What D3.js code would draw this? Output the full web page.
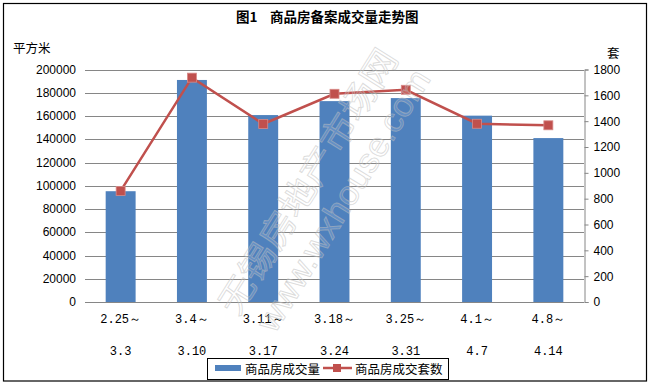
<!DOCTYPE html>
<html><head><meta charset="utf-8">
<script src="https://cdn.jsdelivr.net/npm/d3@7"></script>
<style>
html,body{margin:0;padding:0;background:#fff;}
svg{display:block;}
</style></head>
<body>
<svg id="c" width="651" height="384"></svg>
<script>
const categoriesTop = ["2.25～","3.4～","3.11～","3.18～","3.25～","4.1～","4.8～"];
const categoriesBottom = ["3.3","3.10","3.17","3.24","3.31","4.7","4.14"];
const areaValues = [95300, 191000, 160800, 172800, 175400, 160300, 141000];
const unitValues = [860, 1737, 1378, 1612, 1643, 1380, 1368];
const leftTicks = [0,20000,40000,60000,80000,100000,120000,140000,160000,180000,200000];
const rightTicks = [0,200,400,600,800,1000,1200,1400,1600,1800];
const seriesNames = ["商品房成交量","商品房成交套数"];
const titleParts = ["图1", "商品房备案成交量走势图"];
const watermark = ["无锡房地产市场网", "www.wxhouse.com"];

const svg = d3.select("#c");
const W = 651, H = 384;
const m = {left:85, right:584, top:69.5, bottom:302};
const barColor = "#4F81BD", lineColor = "#C0504D", gridColor = "#868686";
const numFont = "'Liberation Sans', Arial, sans-serif";
const cjkFont = "'Noto Sans CJK SC', sans-serif";
const monoFont = "'Liberation Mono', 'DejaVu Sans Mono', monospace";

svg.append("rect").attr("x",3.5).attr("y",3.5).attr("width",W-8).attr("height",H-6.5)
  .attr("fill","#fff").attr("stroke","#000").attr("stroke-width",1.2);

const x = d3.scaleBand().domain(d3.range(categoriesTop.length)).range([m.left,m.right]).paddingInner(0.58).paddingOuter(0.29);
const yL = d3.scaleLinear().domain([0,200000]).range([m.bottom,m.top]);
const yR = d3.scaleLinear().domain([0,1800]).range([m.bottom,m.top]);

// gridlines
svg.append("g").selectAll("line").data(leftTicks).join("line")
  .attr("x1",m.left).attr("x2",m.right)
  .attr("y1",d=>Math.round(yL(d))+0.5).attr("y2",d=>Math.round(yL(d))+0.5)
  .attr("stroke",gridColor).attr("stroke-width",1);

// left axis labels
svg.append("g").selectAll("text").data(leftTicks).join("text")
  .attr("x",76).attr("y",d=>yL(d)).attr("dy","0.35em").attr("text-anchor","end")
  .attr("font-family",numFont).attr("font-size",12).attr("fill","#000").text(d=>d);

// right axis
const rAxis = d3.axisRight(yR).tickValues(rightTicks).tickSize(4).tickPadding(5).tickFormat(d=>d);
const rg = svg.append("g").attr("transform",`translate(${m.right+0.5},0)`).call(rAxis);
rg.select(".domain").attr("stroke",gridColor);
rg.selectAll(".tick line").attr("stroke",gridColor);
rg.selectAll("text").attr("font-family",numFont).attr("font-size",12).attr("fill","#000");

// bars
svg.append("g").selectAll("rect").data(areaValues).join("rect")
  .attr("x",(d,i)=>x(i)).attr("width",x.bandwidth())
  .attr("y",d=>yL(d)).attr("height",d=>yL(0)-yL(d)).attr("fill",barColor);

// line
const cx = i => x(i)+x.bandwidth()/2;
svg.append("path").datum(unitValues)
  .attr("d",d3.line().x((d,i)=>cx(i)).y(d=>yR(d)))
  .attr("fill","none").attr("stroke",lineColor).attr("stroke-width",2.5);
svg.append("g").selectAll("rect").data(unitValues).join("rect")
  .attr("x",(d,i)=>cx(i)-4.5).attr("y",d=>yR(d)-4.5).attr("width",9).attr("height",9)
  .attr("fill",lineColor).attr("stroke","#d88a88").attr("stroke-width",0.8);

// x labels
const xl = svg.append("g");
xl.selectAll("text.t").data(categoriesTop).join("text").attr("class","t")
  .attr("x",(d,i)=>cx(i)).attr("y",323).attr("text-anchor","middle")
  .attr("font-family",monoFont).attr("font-size",12).attr("fill","#000").text(d=>d);
xl.selectAll("text.b").data(categoriesBottom).join("text").attr("class","b")
  .attr("x",(d,i)=>cx(i)).attr("y",355).attr("text-anchor","middle")
  .attr("font-family",monoFont).attr("font-size",12).attr("fill","#000").text(d=>d);

// watermark
const wm = svg.append("g").attr("pointer-events","none");
wm.append("text").attr("transform","translate(306,180) rotate(-58)")
  .attr("text-anchor","middle").attr("dominant-baseline","central")
  .attr("font-family",cjkFont).attr("font-size",34).attr("textLength",305).attr("lengthAdjust","spacingAndGlyphs")
  .attr("fill","rgba(255,255,255,0.12)").attr("stroke","rgba(190,190,190,0.55)").attr("stroke-width",0.9)
  .text(watermark[0]);
wm.append("text").attr("transform","translate(343,200) rotate(-58.5)")
  .attr("text-anchor","middle").attr("dominant-baseline","central")
  .attr("font-family",numFont).attr("font-size",34).attr("textLength",300).attr("lengthAdjust","spacingAndGlyphs")
  .attr("fill","rgba(255,255,255,0.12)").attr("stroke","rgba(190,190,190,0.55)").attr("stroke-width",0.9)
  .text(watermark[1]);

// title & units
svg.append("text").attr("x",236).attr("y",22)
  .attr("font-family",cjkFont).attr("font-weight","bold").attr("font-size",13.5).text(titleParts[0]);
svg.append("text").attr("x",270).attr("y",22)
  .attr("font-family",cjkFont).attr("font-weight","bold").attr("font-size",13.5).text(titleParts[1]);
svg.append("text").attr("x",13).attr("y",53).attr("font-family",cjkFont).attr("font-size",12.5).text("平方米");
svg.append("text").attr("x",607).attr("y",58).attr("font-family",cjkFont).attr("font-size",12.5).text("套");

// legend
const lg = svg.append("g");
lg.append("rect").attr("x",207.5).attr("y",358.5).attr("width",241).attr("height",21).attr("fill","#fff").attr("stroke","#000").attr("stroke-width",1);
lg.append("rect").attr("x",215).attr("y",365).attr("width",26).attr("height",6).attr("fill",barColor);
lg.append("text").attr("x",245).attr("y",373.5).attr("font-family",cjkFont).attr("font-size",12.5).text(seriesNames[0]);
lg.append("line").attr("x1",323).attr("x2",352).attr("y1",368).attr("y2",368).attr("stroke",lineColor).attr("stroke-width",2.5);
lg.append("rect").attr("x",333).attr("y",364).attr("width",8).attr("height",8).attr("fill",lineColor);
lg.append("text").attr("x",355).attr("y",373.5).attr("font-family",cjkFont).attr("font-size",12.5).text(seriesNames[1]);
</script>
</body></html>
